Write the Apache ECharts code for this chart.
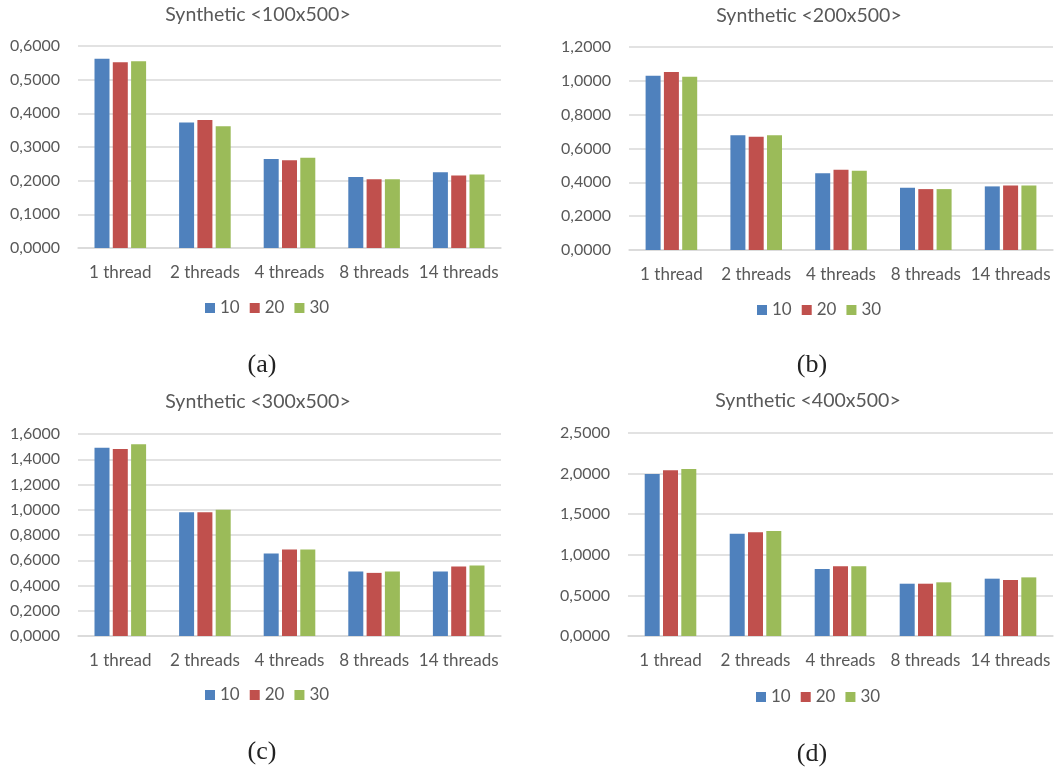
<!DOCTYPE html>
<html>
<head>
<meta charset="utf-8">
<title>Synthetic benchmark timings</title>
<script src="https://cdn.jsdelivr.net/npm/echarts@6/dist/echarts.min.js"></script>
<style>
  html, body { margin: 0; padding: 0; background: #ffffff; }
  #chart { width: 1062px; height: 771px; }
</style>
</head>
<body>
<div id="chart"></div>
<script>
// Thread-count categories shared by all four panels
const categories = ['1 thread', '2 threads', '4 threads', '8 threads', '14 threads'];
const seriesNames = ['10', '20', '30'];
const colors = ['#4F81BD', '#C0504D', '#9BBB59'];

// Panel titles and captions
const panelTitles = ['Synthetic <100x500>', 'Synthetic <200x500>', 'Synthetic <300x500>', 'Synthetic <400x500>'];
const panelCaptions = ['(a)', '(b)', '(c)', '(d)'];

// Y-axis ranges per panel
const yMax = [0.6, 1.2, 1.6, 2.5];
const yInterval = [0.1, 0.2, 0.2, 0.5];

// Measured times, one array per series (10, 20, 30) for each panel
const a10 = [0.562, 0.373, 0.264, 0.211, 0.225];
const a20 = [0.552, 0.380, 0.261, 0.204, 0.215];
const a30 = [0.555, 0.362, 0.268, 0.204, 0.218];

const b10 = [1.030, 0.678, 0.453, 0.368, 0.376];
const b20 = [1.052, 0.670, 0.474, 0.360, 0.382];
const b30 = [1.024, 0.678, 0.468, 0.360, 0.382];

const c10 = [1.491, 0.981, 0.653, 0.510, 0.510];
const c20 = [1.481, 0.981, 0.685, 0.500, 0.550];
const c30 = [1.518, 1.000, 0.685, 0.510, 0.558];

const d10 = [1.995, 1.260, 0.825, 0.644, 0.706];
const d20 = [2.040, 1.277, 0.858, 0.644, 0.690];
const d30 = [2.057, 1.293, 0.858, 0.661, 0.722];

const panelData = [[a10, a20, a30], [b10, b20, b30], [c10, c20, c30], [d10, d20, d30]];

// Layout of the four panels
const grids = [
  { left: 78,  right: 561, top: 46,  bottom: 523 },
  { left: 629, right: 9,   top: 47,  bottom: 521 },
  { left: 78,  right: 561, top: 434, bottom: 135 },
  { left: 628, right: 9,   top: 433, bottom: 135 }
];
// Centre points of titles, legends and captions
const titlePos = [[258, 15], [809, 16], [258, 402], [808, 401]];
const legendPos = [[262, 308], [814, 310], [262, 695], [813, 697]];
const captionPos = [[262, 365], [812, 365], [262, 752], [812, 754]];

const FONT = 'Lato, "Open Sans", sans-serif';
const TEXT = '#595959';

const option = {
  animation: false,
  backgroundColor: '#ffffff',
  title: panelTitles.map((t, i) => ({
    text: t,
    left: titlePos[i][0],
    top: titlePos[i][1] - 12,
    padding: 0,
    textAlign: 'center',
    textStyle: { fontFamily: FONT, fontSize: 19.5, lineHeight: 24, fontWeight: 'normal', color: TEXT }
  })),
  legend: legendPos.map(p => ({
    data: seriesNames,
    left: p[0] - 57,
    top: p[1] - 9,
    padding: 0,
    orient: 'horizontal',
    icon: 'rect',
    itemWidth: 10,
    itemHeight: 10,
    itemGap: 10,
    selectedMode: false,
    textStyle: { fontFamily: FONT, fontSize: 17, color: TEXT, lineHeight: 18 }
  })),
  grid: grids,
  xAxis: grids.map((g, i) => ({
    type: 'category',
    gridIndex: i,
    data: categories,
    axisTick: { show: false },
    axisLine: { show: true, lineStyle: { color: '#d9d9d9', width: 1.5 } },
    axisLabel: { fontFamily: FONT, fontSize: 17, color: TEXT, margin: 16, interval: 0 }
  })),
  yAxis: grids.map((g, i) => ({
    type: 'value',
    gridIndex: i,
    min: 0,
    max: yMax[i],
    interval: yInterval[i],
    axisLine: { show: false },
    axisTick: { show: false },
    splitLine: { lineStyle: { color: '#d9d9d9', width: 1.5 } },
    axisLabel: {
      fontFamily: FONT, fontSize: 16, color: TEXT, margin: 18,
      formatter: v => v.toFixed(4).replace('.', ',')
    }
  })),
  series: [],
  graphic: panelCaptions.map((c, i) => ({
    type: 'text',
    x: captionPos[i][0],
    y: captionPos[i][1],
    style: {
      text: c,
      fill: '#222222',
      font: '26px "Liberation Serif", "DejaVu Serif", serif',
      textAlign: 'center',
      textVerticalAlign: 'middle'
    }
  }))
};

panelData.forEach((sets, p) => {
  sets.forEach((vals, s) => {
    option.series.push({
      type: 'bar',
      name: seriesNames[s],
      xAxisIndex: p,
      yAxisIndex: p,
      data: vals,
      barWidth: 15,
      barGap: '22%',
      itemStyle: { color: colors[s] }
    });
  });
});

const chart = echarts.init(document.getElementById('chart'), null, { renderer: 'canvas' });
chart.setOption(option);
</script>
</body>
</html>
